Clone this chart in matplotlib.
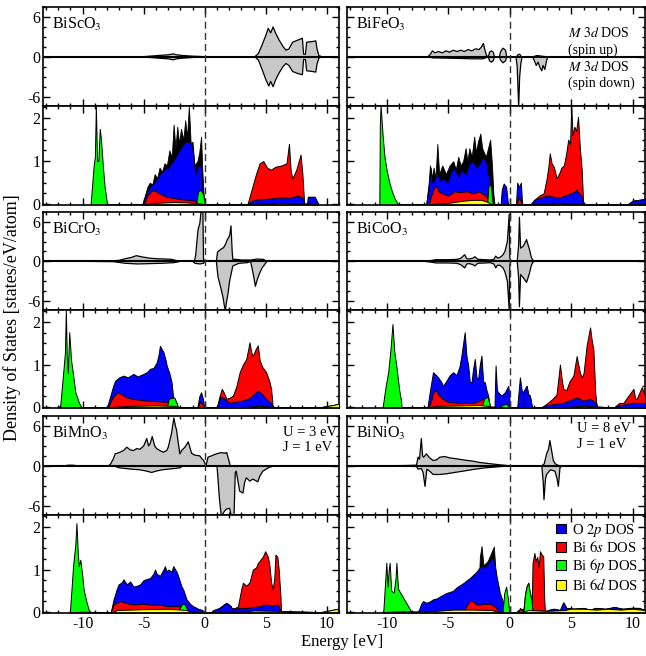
import matplotlib
matplotlib.use('Agg')
import matplotlib.pyplot as plt
from matplotlib.ticker import MultipleLocator
from matplotlib.patches import Patch
import numpy as np

plt.rcParams['font.family'] = 'Liberation Serif'
plt.rcParams['mathtext.fontset'] = 'stix'
plt.rcParams['axes.unicode_minus'] = False

# ---- BiScO3 ----
sc_up = [(-5.2, 0), (-4.5, 0.1), (-3.8, 0.2), (-3.0, 0.3), (-2.6, 0.45), (-2.3, 0.3), (-1.8, 0.2), (-1.0, 0.1),
         (-0.3, 0.05), (0, 0), (4.1, 0), (4.4, 0.5), (4.7, 1.8), (5.0, 3.2), (5.2, 4.3), (5.4, 3.6), (5.6, 4.5),
         (5.8, 3.6), (6.1, 2.5), (6.4, 1.6), (6.65, 1.0), (6.9, 1.2), (7.2, 2.2), (7.6, 2.5), (8.0, 2.8), (8.1, 0.4),
         (8.25, 0.4), (8.35, 2.2), (8.8, 2.3), (9.1, 2.4), (9.2, 1.2), (9.35, 0.2), (9.6, 0)]
sc_dn = [(-5.2, 0), (-4.5, -0.1), (-3.8, -0.2), (-3.0, -0.3), (-2.6, -0.45), (-2.3, -0.3), (-1.8, -0.2), (-1.0, -0.1),
         (0, 0), (4.1, 0), (4.4, -0.5), (4.7, -1.9), (5.0, -3.4), (5.25, -4.4), (5.4, -3.7), (5.6, -4.5), (5.8, -3.5),
         (6.1, -2.4), (6.4, -1.5), (6.65, -1.0), (6.9, -1.3), (7.2, -2.2), (7.6, -2.5), (8.0, -2.7), (8.1, -0.4),
         (8.25, -0.4), (8.35, -2.1), (8.8, -2.2), (9.1, -2.3), (9.2, -1.1), (9.35, -0.2), (9.6, 0)]
sc_o = [(-5.1, 0), (-4.8, 0.25), (-4.5, 0.4), (-4.0, 0.55), (-3.7, 0.7), (-3.3, 0.8), (-3.0, 0.85), (-2.6, 1.0),
        (-2.3, 1.15), (-2.0, 1.3), (-1.6, 1.45), (-1.3, 1.45), (-1.05, 1.4), (-0.85, 0.9), (-0.75, 0.7), (-0.6, 0.85),
        (-0.35, 0.95), (-0.2, 0.4), (-0.05, 0), (3.5, 0), (4.0, 0.1), (5.0, 0.12), (6.0, 0.15), (7.0, 0.15),
        (7.6, 0.2), (8.0, 0.15), (8.15, 0), (8.4, 0), (8.45, 0.17), (9.0, 0.17), (9.3, 0)]
sc_s = [(-5.0, 0), (-4.7, 0.2), (-4.4, 0.3), (-4.2, 0.33), (-3.9, 0.28), (-3.5, 0.22), (-3.1, 0.17), (-2.5, 0.14),
        (-1.5, 0.1), (-0.8, 0.08), (-0.5, 0), (3.5, 0), (3.8, 0.3), (4.2, 0.7), (4.5, 0.95), (4.8, 1.0), (5.1, 0.85),
        (5.4, 0.8), (5.8, 0.87), (6.3, 0.9), (6.7, 0.95), (6.9, 1.4), (7.05, 0.75), (7.2, 0.6), (7.5, 0.8),
        (7.85, 1.15), (8.0, 0.7), (8.15, 0)]
sc_p = [(-9.35, 0), (-9.1, 0.9), (-9.0, 1.1), (-8.92, 2.3), (-8.82, 1.0), (-8.72, 1.0), (-8.6, 1.75), (-8.5, 1.5),
        (-8.35, 0.9), (-8.2, 0.4), (-8.0, 0), (-0.7, 0), (-0.55, 0.3), (-0.3, 0.33), (-0.1, 0.2), (0, 0)]
sc_d = [(-5.0, 0), (-4.0, 0.03), (-2.5, 0.05), (-1.5, 0.04), (-0.5, 0.02), (0, 0), (4.0, 0), (6.0, 0.03),
        (8.0, 0.02), (9.0, 0)]
sc_t = [(-5.1, 0), (-4.7, 0.4), (-4.5, 0.5), (-4.3, 0.45), (-4.1, 0.7), (-3.9, 0.6), (-3.7, 0.85), (-3.5, 0.75),
        (-3.3, 0.95), (-3.1, 0.9), (-2.9, 1.25), (-2.7, 1.1), (-2.55, 1.85), (-2.4, 1.3), (-2.25, 1.8), (-2.1, 1.4),
        (-1.95, 1.75), (-1.75, 1.5), (-1.6, 1.95), (-1.45, 1.55), (-1.3, 2.28), (-1.15, 1.4), (-1.0, 1.45),
        (-0.85, 0.9), (-0.6, 1.0), (-0.45, 1.2), (-0.3, 1.57), (-0.2, 0.8), (-0.05, 0)]

# ---- BiFeO3 ----
fe_up = [(-6.7, 0), (-6.5, 0.3), (-6.3, 0.9), (-6.1, 0.6), (-5.8, 0.8), (-5.5, 0.6), (-5.2, 0.9), (-4.9, 0.7),
         (-4.6, 1.0), (-4.3, 0.8), (-4.0, 1.0), (-3.7, 0.8), (-3.4, 1.1), (-3.1, 0.9), (-2.8, 1.2), (-2.5, 1.1),
         (-2.3, 1.5), (-2.15, 2.0), (-2.05, 1.2), (-1.9, 0.2), (-1.75, 0), (-1.65, 0.7), (-1.5, 0.9), (-1.35, 0.7),
         (-1.25, 0), (-0.85, 0), (-0.75, 0.8), (-0.55, 1.3), (-0.35, 1.0), (-0.25, 0), (0.55, 0), (0.65, 0.3),
         (0.8, 0.4), (0.95, 0), (1.9, 0), (2.2, 0.2), (2.6, 0.1), (3.0, 0)]
fe_dn = [(-6.7, 0), (-6.3, -0.15), (-5.0, -0.2), (-4.0, -0.25), (-3.0, -0.3), (-2.2, -0.3), (-1.9, -0.1), (-1.75, 0),
         (-1.65, -0.6), (-1.5, -0.8), (-1.35, -0.6), (-1.25, 0), (-0.85, 0), (-0.75, -0.5), (-0.55, -0.9),
         (-0.35, -0.6), (-0.25, 0), (0.5, 0), (0.6, -1.5), (0.72, -7.6), (0.8, -3.0), (0.9, -1.0), (1.0, 0),
         (1.85, 0), (2.0, -0.6), (2.15, -1.3), (2.3, -0.8), (2.45, -1.6), (2.6, -2.1), (2.7, -1.3), (2.85, -1.9),
         (3.0, -0.5), (3.1, 0)]
fe_o = [(-6.8, 0), (-6.6, 0.4), (-6.45, 0.85), (-6.3, 0.5), (-6.1, 0.6), (-5.9, 0.75), (-5.7, 0.55), (-5.4, 0.6),
        (-5.1, 0.5), (-4.8, 0.75), (-4.5, 0.85), (-4.2, 0.65), (-3.9, 0.8), (-3.6, 0.7), (-3.3, 0.95), (-3.0, 1.0),
        (-2.7, 0.85), (-2.45, 0.95), (-2.2, 1.1), (-1.95, 1.0), (-1.75, 0.7), (-1.5, 0.45), (-1.35, 0.2),
        (-1.25, 0), (-0.75, 0), (-0.65, 0.35), (-0.5, 0.48), (-0.3, 0.4), (-0.15, 0), (0.5, 0), (0.6, 0.5),
        (0.75, 0.4), (0.9, 0.5), (1.0, 0), (1.7, 0), (2.0, 0.1), (2.5, 0.15), (3.0, 0.2), (4.0, 0.15), (5.0, 0.25),
        (5.4, 0.33), (5.8, 0.2), (6.0, 0), (9.6, 0), (10.0, 0.08), (10.5, 0.1), (11.0, 0.12)]
fe_s = [(-6.6, 0), (-6.4, 0.2), (-6.2, 0.35), (-6.0, 0.44), (-5.8, 0.3), (-5.5, 0.25), (-5.0, 0.2), (-4.5, 0.3),
        (-4.0, 0.28), (-3.5, 0.3), (-3.0, 0.25), (-2.5, 0.3), (-2.0, 0.2), (-1.7, 0.1), (-1.5, 0), (0.55, 0),
        (0.7, 0.15), (0.85, 0.1), (0.95, 0), (1.8, 0), (2.0, 0.1), (2.4, 0.2), (2.75, 0.25), (3.0, 0.6),
        (3.15, 0.9), (3.25, 1.18), (3.4, 0.95), (3.6, 0.85), (3.8, 0.6), (4.0, 0.7), (4.2, 0.85), (4.4, 0.9),
        (4.6, 1.2), (4.75, 1.5), (4.9, 1.4), (5.0, 2.3), (5.1, 1.6), (5.25, 1.8), (5.4, 1.7), (5.55, 2.03),
        (5.7, 1.3), (5.85, 0.8), (5.97, 0)]
fe_p = [(-10.62, 0), (-10.58, 1.8), (-10.52, 2.3), (-10.35, 1.6), (-10.2, 1.1), (-10.0, 0.75), (-9.8, 0.5),
        (-9.6, 0.3), (-9.35, 0.12), (-9.1, 0), (-1.85, 0), (-1.75, 0.4), (-1.6, 0.5), (-1.5, 0.3), (-1.4, 0)]
fe_d = [(-6.5, 0), (-5.0, 0.03), (-3.8, 0.08), (-3.0, 0.1), (-2.3, 0.1), (-1.8, 0.05), (-1.5, 0), (2.0, 0),
        (4.0, 0.03), (6.0, 0), (10.0, 0), (11.0, 0.03)]
fe_t = [(-6.8, 0), (-6.6, 0.5), (-6.5, 0.9), (-6.35, 0.6), (-6.2, 0.85), (-6.05, 0.6), (-5.9, 1.4), (-5.75, 0.7),
        (-5.5, 0.9), (-5.2, 0.7), (-4.9, 0.9), (-4.6, 1.0), (-4.4, 0.8), (-4.2, 1.1), (-4.0, 0.9), (-3.8, 1.0),
        (-3.6, 1.3), (-3.45, 1.0), (-3.3, 1.3), (-3.1, 1.1), (-2.9, 1.57), (-2.75, 1.2), (-2.6, 1.45),
        (-2.4, 1.64), (-2.25, 1.3), (-2.1, 1.2), (-1.95, 1.1), (-1.6, 1.5), (-1.45, 0.9), (-1.3, 0)]

# ---- BiCrO3 ----
cr_up = [(-10.0, 0), (-8.0, 0.03), (-7.0, 0.15), (-6.5, 0.4), (-6.0, 0.6), (-5.6, 0.86), (-5.2, 0.7), (-4.6, 0.5),
         (-4.0, 0.4), (-3.2, 0.35), (-2.7, 0.3), (-2.3, 0.1), (-2.0, 0), (-0.85, 0), (-0.75, 0.8), (-0.55, 4.8),
         (-0.4, 5.8), (-0.3, 7.6), (-0.15, 7.6), (-0.1, 0.3), (0, 0), (0.95, 0), (1.05, 1.4), (1.3, 1.8),
         (1.55, 2.1), (1.7, 2.6), (1.85, 3.3), (1.95, 3.6), (2.05, 4.0), (2.15, 5.4), (2.25, 1.5), (2.3, 0.3),
         (2.6, 0.3), (3.0, 0.2), (3.8, 0.2), (4.3, 0.35), (4.8, 0.3), (5.0, 0.1), (5.3, 0)]
cr_dn = [(-10.0, 0), (-7.5, -0.05), (-6.5, -0.3), (-5.5, -0.4), (-4.5, -0.35), (-3.5, -0.3), (-2.5, -0.2), (-2.0, 0),
         (-1.0, 0), (-0.8, -0.3), (-0.4, -0.4), (-0.1, -0.3), (0, 0), (0.95, 0), (1.09, -2.4), (1.3, -3.9),
         (1.5, -5.5), (1.68, -7.6), (1.8, -6.0), (1.9, -5.0), (2.04, -3.0), (2.3, -0.7), (2.8, -0.3), (3.5, -0.2),
         (3.75, 0), (3.85, -0.8), (4.0, -2.2), (4.15, -3.8), (4.3, -2.8), (4.5, -1.8), (4.7, -1.0), (4.9, -0.5),
         (5.1, 0)]
cr_o = [(-12.0, 0), (-11.6, 0.1), (-11.35, 0.18), (-11.1, 0.12), (-10.7, 0.05), (-10.3, 0), (-8.0, 0), (-7.8, 0.2),
        (-7.5, 0.5), (-7.34, 0.62), (-7.0, 0.7), (-6.66, 0.74), (-6.3, 0.7), (-5.84, 0.78), (-5.5, 0.72),
        (-5.02, 0.78), (-4.75, 0.82), (-4.48, 0.9), (-4.2, 0.92), (-3.94, 1.05), (-3.8, 1.2), (-3.67, 1.44),
        (-3.5, 1.35), (-3.39, 1.3), (-3.2, 1.1), (-3.12, 0.98), (-2.9, 0.8), (-2.72, 0.59), (-2.58, 0.2),
        (-2.31, 0), (-0.6, 0), (-0.45, 0.25), (-0.3, 0.35), (-0.15, 0.2), (-0.05, 0), (1.0, 0), (1.3, 0.25),
        (1.6, 0.2), (2.0, 0.1), (3.0, 0.15), (3.6, 0.2), (4.0, 0.3), (4.35, 0.39), (4.7, 0.3), (5.0, 0.2),
        (5.4, 0.1), (5.6, 0), (10.0, 0), (11.0, 0.03)]
cr_s = [(-7.9, 0), (-7.6, 0.2), (-7.34, 0.3), (-7.1, 0.35), (-6.8, 0.3), (-6.4, 0.23), (-6.0, 0.2), (-5.0, 0.16),
        (-4.0, 0.14), (-3.0, 0.12), (-2.6, 0.05), (-2.4, 0), (-0.55, 0), (-0.4, 0.12), (-0.2, 0.08), (-0.1, 0),
        (1.0, 0), (1.22, 0.27), (1.4, 0.43), (1.55, 0.35), (1.77, 0.2), (2.04, 0.22), (2.31, 0.27), (2.6, 0.5),
        (2.86, 0.82), (3.13, 1.0), (3.4, 1.13), (3.67, 1.52), (3.8, 1.3), (3.94, 1.2), (4.15, 1.35), (4.35, 1.45),
        (4.5, 1.1), (4.7, 0.95), (5.03, 0.82), (5.3, 0.6), (5.44, 0.43), (5.57, 0)]
cr_p = [(-11.85, 0), (-11.6, 0.8), (-11.45, 1.3), (-11.38, 2.3), (-11.3, 1.2), (-11.22, 0.8), (-11.1, 1.76),
        (-10.95, 1.1), (-10.85, 0.9), (-10.6, 0.35), (-10.3, 0.1), (-10.1, 0), (-3.1, 0), (-2.95, 0.2),
        (-2.5, 0.23), (-2.3, 0.1), (-2.2, 0)]
cr_d = [(-8.0, 0), (-6.0, 0.03), (-4.0, 0.04), (-2.5, 0.03), (-2.0, 0), (3.0, 0), (4.5, 0.03), (6.0, 0),
        (9.5, 0), (10.5, 0.05), (11.0, 0.08)]

# ---- BiCoO3 ----
co_up = [(-7.0, 0), (-6.5, 0.1), (-6.0, 0.25), (-5.0, 0.25), (-4.3, 0.3), (-4.0, 0.45), (-3.8, 0.8), (-3.67, 1.0),
         (-3.5, 0.4), (-3.3, 0.35), (-3.0, 0.5), (-2.85, 0.7), (-2.6, 0.3), (-2.0, 0.25), (-1.6, 0.2), (-1.3, 0.3),
         (-1.15, 0.8), (-1.0, 0.5), (-0.8, 0.6), (-0.55, 1.0), (-0.4, 1.5), (-0.2, 3.0), (-0.05, 7.2), (0.0, 0.5),
         (0.1, 0), (0.6, 0), (0.72, 2.5), (0.78, 6.7), (0.88, 2.0), (1.1, 2.3), (1.36, 3.3), (1.45, 2.7),
         (1.6, 1.8), (1.75, 0.6), (1.9, 0.1), (2.0, 0)]
co_dn = [(-7.0, 0), (-6.5, -0.1), (-6.0, -0.25), (-5.0, -0.25), (-4.3, -0.3), (-4.0, -0.5), (-3.8, -0.8),
         (-3.67, -1.0), (-3.5, -0.4), (-3.3, -0.35), (-3.0, -0.5), (-2.85, -0.7), (-2.6, -0.3), (-2.0, -0.25),
         (-1.6, -0.2), (-1.3, -0.4), (-1.15, -1.0), (-1.0, -0.6), (-0.8, -0.6), (-0.55, -1.0), (-0.4, -1.6),
         (-0.2, -3.0), (-0.05, -7.4), (0.0, -0.5), (0.1, 0), (0.6, 0), (0.72, -2.5), (0.78, -6.9), (0.88, -2.0),
         (1.1, -2.5), (1.36, -3.2), (1.45, -2.7), (1.6, -1.8), (1.75, -0.6), (1.9, -0.1), (2.0, 0)]
co_o = [(-10.2, 0), (-9.8, 0.08), (-9.4, 0.12), (-9.0, 0.05), (-8.8, 0), (-6.7, 0), (-6.52, 0.35), (-6.25, 0.82),
        (-6.0, 0.75), (-5.84, 0.7), (-5.6, 0.6), (-5.43, 0.5), (-5.16, 0.62), (-4.89, 0.75), (-4.62, 0.82),
        (-4.34, 0.75), (-4.1, 0.95), (-3.94, 1.21), (-3.8, 1.5), (-3.67, 1.76), (-3.53, 1.2), (-3.39, 0.98),
        (-3.26, 0.6), (-3.12, 0.58), (-2.99, 0.9), (-2.85, 1.13), (-2.71, 0.7), (-2.58, 0.66), (-2.44, 1.0),
        (-2.31, 1.21), (-2.17, 0.6), (-2.03, 0.58), (-1.9, 0.4), (-1.76, 0.27), (-1.63, 0), (-1.25, 0),
        (-1.16, 0.98), (-1.05, 0.4), (-0.95, 0.35), (-0.68, 0.27), (-0.4, 0.35), (-0.13, 0.5), (-0.05, 0.3),
        (0, 0), (0.6, 0), (0.82, 0.7), (0.96, 0.4), (1.09, 0.35), (1.36, 0.5), (1.5, 0.3), (1.63, 0.27), (1.8, 0),
        (2.6, 0), (3.0, 0.05), (4.35, 0.1), (5.44, 0.23), (6.0, 0.15), (6.53, 0.2), (7.0, 0.1), (7.1, 0),
        (8.5, 0), (9.0, 0.05), (10.0, 0.1), (11.0, 0.1)]
co_s = [(-6.6, 0), (-6.4, 0.15), (-6.25, 0.35), (-6.0, 0.4), (-5.84, 0.3), (-5.5, 0.2), (-5.0, 0.12), (-4.0, 0.1),
        (-3.0, 0.1), (-2.44, 0.15), (-2.2, 0.2), (-1.9, 0.1), (-1.7, 0), (2.6, 0), (2.99, 0.08), (3.5, 0.2),
        (3.8, 0.3), (4.08, 1.0), (4.2, 0.7), (4.35, 0.43), (4.6, 0.4), (4.85, 0.6), (5.17, 0.74), (5.44, 1.2),
        (5.57, 1.0), (5.71, 0.8), (5.85, 0.7), (6.0, 0.8), (6.25, 1.45), (6.53, 1.87), (6.65, 1.6), (6.8, 1.35),
        (6.95, 0.35), (7.07, 0), (8.5, 0), (8.9, 0.1), (9.24, 0.1), (9.6, 0.25), (10.06, 0.43), (10.2, 0.2),
        (10.33, 0.2), (10.74, 0.47), (11.0, 0.27)]
co_p = [(-10.35, 0), (-10.1, 0.5), (-9.9, 0.82), (-9.7, 1.4), (-9.55, 1.95), (-9.4, 1.3), (-9.24, 0.98),
        (-9.0, 0.4), (-8.85, 0.15), (-8.8, 0), (-2.3, 0), (-2.1, 0.2), (-1.8, 0.25), (-1.6, 0), (-0.9, 0),
        (-0.6, 0.05), (-0.3, 0.08), (0, 0)]
co_d = [(-6.6, 0), (-6.0, 0.03), (-4.0, 0.04), (-2.5, 0.05), (-1.8, 0.03), (-1.0, 0), (4.0, 0), (6.0, 0.03),
        (8.0, 0), (11.0, 0)]

# ---- BiMnO3 ----
mn_up = [(-11.5, 0), (-11.2, 0.1), (-10.8, 0.1), (-10.4, 0), (-7.9, 0), (-7.74, 0.2), (-7.5, 1.0), (-7.34, 1.8),
         (-7.0, 2.0), (-6.66, 2.3), (-6.38, 2.8), (-6.1, 2.4), (-5.84, 2.3), (-5.57, 2.6), (-5.3, 2.5), (-5.0, 3.0),
         (-4.75, 4.1), (-4.6, 3.0), (-4.48, 3.3), (-4.3, 4.4), (-4.1, 3.0), (-3.94, 2.6), (-3.67, 2.3),
         (-3.39, 2.05), (-3.12, 2.3), (-2.99, 2.8), (-2.72, 4.9), (-2.53, 7.2), (-2.4, 6.0), (-2.31, 5.4),
         (-2.17, 3.5), (-2.04, 1.8), (-1.9, 2.3), (-1.63, 2.8), (-1.35, 3.6), (-1.22, 2.8), (-1.08, 1.9),
         (-0.8, 1.6), (-0.41, 1.5), (-0.2, 1.0), (-0.08, 0.8), (0.1, 0), (0.27, 1.3), (0.68, 1.6), (0.95, 1.8),
         (1.36, 2.0), (1.63, 1.9), (1.8, 2.0), (1.95, 1.0), (2.09, 0), (11.0, 0)]
mn_dn = [(-11.5, 0), (-7.5, 0), (-7.0, -0.3), (-6.5, -0.4), (-6.0, -0.5), (-5.3, -0.6), (-4.75, -0.8),
         (-4.35, -1.0), (-4.0, -0.8), (-3.5, -0.6), (-3.0, -0.5), (-2.5, -0.4), (-2.04, -0.3), (-1.76, 0),
         (1.0, 0), (1.09, -2.0), (1.2, -4.9), (1.36, -7.6), (1.55, -7.0), (1.77, -6.5), (2.04, -6.4),
         (2.18, -7.6), (2.4, -7.6), (2.5, -1.0), (2.58, -0.8), (2.86, -3.8), (3.13, -4.1), (3.27, -2.5),
         (3.4, -1.8), (3.7, -2.3), (3.94, -2.0), (4.35, -2.4), (4.5, -1.6), (4.76, -0.8), (5.3, -0.2), (5.8, 0)]
mn_o = [(-11.0, 0), (-10.8, 0.08), (-10.5, 0.1), (-10.2, 0.06), (-9.8, 0), (-7.7, 0), (-7.47, 0.3), (-7.2, 0.55),
        (-7.06, 0.65), (-6.8, 0.7), (-6.66, 0.77), (-6.38, 0.65), (-6.11, 0.72), (-5.84, 0.6), (-5.57, 0.62),
        (-5.3, 0.65), (-5.02, 0.75), (-4.75, 0.78), (-4.48, 0.8), (-4.21, 0.9), (-4.07, 1.0), (-3.94, 0.9),
        (-3.67, 0.85), (-3.39, 1.0), (-3.26, 1.08), (-3.12, 0.95), (-2.99, 1.0), (-2.72, 0.95), (-2.58, 1.08),
        (-2.31, 0.95), (-2.17, 0.84), (-1.9, 0.6), (-1.76, 0.53), (-1.49, 0.3), (-1.22, 0.2), (-0.95, 0.14),
        (-0.54, 0.08), (-0.2, 0.05), (0, 0), (0.5, 0), (0.7, 0.05), (1.2, 0.1), (1.77, 0.22), (2.1, 0.15),
        (2.3, 0.05), (2.72, 0.1), (3.5, 0.1), (4.49, 0.14), (5.03, 0.18), (5.5, 0.15), (5.98, 0.18), (6.25, 0),
        (11.0, 0)]
mn_s = [(-7.7, 0), (-7.47, 0.18), (-7.2, 0.22), (-6.93, 0.26), (-6.5, 0.22), (-5.84, 0.18), (-5.0, 0.2),
        (-4.48, 0.18), (-3.5, 0.17), (-3.12, 0.14), (-2.5, 0.14), (-2.04, 0.14), (-1.6, 0.08), (-1.3, 0), (1.0, 0),
        (1.5, 0.05), (2.0, 0.08), (2.5, 0.1), (2.72, 0.14), (3.0, 0.55), (3.13, 0.69), (3.4, 0.62), (3.67, 0.7),
        (3.94, 1.0), (4.21, 1.05), (4.35, 1.15), (4.62, 1.25), (4.76, 1.3), (4.95, 1.43), (5.17, 1.3), (5.3, 1.1),
        (5.44, 0.7), (5.57, 0.53), (5.7, 0.8), (5.79, 1.35), (5.95, 1.3), (6.06, 1.0), (6.2, 0.4), (6.25, 0)]
mn_p = [(-11.05, 0), (-10.9, 0.6), (-10.79, 1.08), (-10.6, 1.6), (-10.51, 2.09), (-10.4, 1.4), (-10.32, 1.08),
        (-10.19, 1.23), (-10.05, 0.9), (-9.92, 0.53), (-9.7, 0.25), (-9.51, 0.06), (-9.37, 0), (-2.2, 0),
        (-2.04, 0.1), (-1.9, 0.18), (-1.7, 0.2), (-1.5, 0.1), (-1.3, 0)]
mn_d = [(-11.0, 0), (-10.0, 0.01), (-7.5, 0), (-7.2, 0.05), (-5.0, 0.07), (-3.0, 0.08), (-1.5, 0.05), (-1.0, 0),
        (3.0, 0), (4.0, 0.04), (6.0, 0.03), (9.5, 0), (10.2, 0.04), (10.9, 0.08)]

# ---- BiNiO3 ----
ni_up = [(-10.3, 0), (-8.5, 0.05), (-7.6, 0.1), (-7.47, 1.3), (-7.35, 1.0), (-7.2, 4.1), (-7.1, 1.5), (-7.01, 1.3),
         (-6.79, 1.8), (-6.52, 1.2), (-6.25, 0.8), (-5.97, 0.9), (-5.7, 1.3), (-5.3, 1.4), (-4.89, 1.2),
         (-4.5, 1.1), (-3.8, 0.9), (-3.0, 0.7), (-2.44, 0.5), (-1.5, 0.3), (-0.8, 0.15), (-0.2, 0.05), (0, 0),
         (2.6, 0), (2.8, 0.3), (2.99, 1.8), (3.15, 2.5), (3.26, 3.8), (3.4, 2.3), (3.54, 0.8), (3.7, 0.3),
         (3.9, 0.1), (4.1, 0)]
ni_dn = [(-10.3, 0), (-7.6, -0.1), (-7.47, -0.5), (-7.2, -0.4), (-7.06, -1.0), (-6.9, -3.1), (-6.75, -0.5),
         (-6.52, -0.8), (-6.25, -1.3), (-5.7, -1.3), (-5.16, -1.2), (-4.5, -1.0), (-3.8, -0.8), (-3.0, -0.55),
         (-2.0, -0.3), (-1.0, -0.15), (0, 0), (2.6, 0), (2.72, -2.5), (2.78, -5.1), (2.9, -2.0), (2.99, -1.3),
         (3.3, -0.6), (3.67, -0.8), (3.85, -2.0), (3.95, -3.1), (4.08, -0.3), (4.2, 0)]
ni_o = [(-10.4, 0), (-10.2, 0.05), (-9.5, 0.05), (-9.0, 0.08), (-8.5, 0.05), (-8.0, 0), (-7.55, 0), (-7.39, 0.06),
        (-7.2, 0.2), (-7.06, 0.26), (-6.79, 0.22), (-6.52, 0.25), (-6.25, 0.3), (-5.97, 0.32), (-5.43, 0.41),
        (-5.16, 0.45), (-4.62, 0.5), (-4.34, 0.58), (-3.8, 0.68), (-3.26, 0.8), (-2.71, 0.95), (-2.31, 1.1),
        (-2.03, 1.05), (-1.63, 1.2), (-1.35, 1.3), (-1.08, 0.84), (-0.81, 0.45), (-0.54, 0.22), (-0.27, 0),
        (0.5, 0), (0.7, 0.05), (1.1, 0.08), (1.9, 0.05), (2.9, 0), (3.1, 0.05), (3.6, 0.08), (4.08, 0.05),
        (4.35, 0.23), (4.6, 0.1), (5.2, 0.08), (6.0, 0.1), (6.5, 0.06), (7.0, 0.1), (7.8, 0.08), (8.5, 0.12),
        (9.2, 0.08), (9.8, 0.1), (10.5, 0.1), (11.0, 0.05)]
ni_s = [(-3.8, 0), (-3.53, 0.15), (-3.26, 0.26), (-2.99, 0.26), (-2.71, 0.18), (-2.44, 0.18), (-2.03, 0.2),
        (-1.63, 0.2), (-1.35, 0.16), (-1.1, 0.1), (-0.95, 0), (0.7, 0), (0.82, 0.1), (1.0, 0.05), (1.1, 0),
        (1.77, 0), (1.85, 1.16), (2.0, 1.39), (2.1, 1.2), (2.23, 1.3), (2.35, 1.05), (2.45, 1.43), (2.6, 1.35),
        (2.72, 1.31), (2.8, 0.3), (2.86, 0)]
ni_p = [(-10.3, 0), (-10.15, 0.7), (-10.05, 1.16), (-9.95, 0.6), (-9.85, 1.0), (-9.78, 1.16), (-9.65, 0.5),
        (-9.45, 0.46), (-9.3, 0.8), (-9.23, 1.16), (-9.1, 0.55), (-8.9, 0.45), (-8.6, 0.3), (-8.3, 0.15),
        (-8.0, 0), (-0.6, 0), (-0.45, 0.45), (-0.3, 0.6), (-0.15, 0.3), (-0.05, 0), (1.1, 0), (1.23, 0.4),
        (1.36, 0.6), (1.5, 0.69), (1.6, 0.5), (1.75, 0.3), (1.85, 0)]
ni_d = [(-10.3, 0), (-9.0, 0.02), (-7.5, 0.02), (-6.0, 0.03), (-4.6, 0.06), (-3.0, 0.06), (-1.5, 0.05), (-0.8, 0),
        (1.0, 0), (1.5, 0.05), (3.0, 0.03), (4.5, 0.05), (4.9, 0.08), (6.0, 0.08), (7.0, 0.06), (8.0, 0.08),
        (9.0, 0.06), (10.0, 0.08), (11.0, 0.05)]
ni_t = [(-2.6, 0), (-2.44, 1.3), (-2.3, 1.55), (-2.15, 1.1), (-1.8, 1.2), (-1.5, 1.4), (-1.3, 1.54), (-1.15, 0.9),
        (-1.0, 0)]

names = ['BiScO$_3$', 'BiFeO$_3$', 'BiCrO$_3$', 'BiCoO$_3$', 'BiMnO$_3$', 'BiNiO$_3$']
spins = [(sc_up, sc_dn), (fe_up, fe_dn), (cr_up, cr_dn), (co_up, co_dn), (mn_up, mn_dn), (ni_up, ni_dn)]
pdos = [(sc_o, sc_s, sc_p, sc_d, sc_t), (fe_o, fe_s, fe_p, fe_d, fe_t), (cr_o, cr_s, cr_p, cr_d, None),
        (co_o, co_s, co_p, co_d, None), (mn_o, mn_s, mn_p, mn_d, None), (ni_o, ni_s, ni_p, ni_d, ni_t)]
labels = ['O $\\mathit{2p}$ DOS', 'Bi $\\mathit{6s}$ DOS', 'Bi $\\mathit{6p}$ DOS', 'Bi $\\mathit{6d}$ DOS']
colors = ['#0000ff', '#ff0000', '#00ff00', '#ffff00']

W, H = 646, 656
fig = plt.figure(figsize=(W / 100, H / 100), dpi=100)


def box(l, t, r, b):
    return [l / W, 1 - b / H, (r - l) / W, (b - t) / H]


def xy(pts):
    a = np.array(pts, dtype=float)
    return a[:, 0], a[:, 1]


def style(ax, bottom_labels, left_labels, spin):
    ax.set_xlim(-13.25, 11.0)
    ax.xaxis.set_major_locator(MultipleLocator(5))
    ax.xaxis.set_minor_locator(MultipleLocator(1))
    if spin:
        ax.set_ylim(-7.4, 7.5)
        ax.yaxis.set_major_locator(MultipleLocator(6))
        ax.yaxis.set_minor_locator(MultipleLocator(1.5))
    else:
        ax.set_ylim(-0.02, 2.28)
        ax.yaxis.set_major_locator(MultipleLocator(1))
        ax.yaxis.set_minor_locator(MultipleLocator(0.25))
    ax.tick_params(which='both', direction='in', top=True, right=True, width=1,
                   labelbottom=bottom_labels, labelleft=left_labels, labelsize=11.5, pad=2)
    ax.tick_params(which='major', length=5)
    ax.tick_params(which='minor', length=2.5)
    for s in ax.spines.values():
        s.set_linewidth(1.2)
    ax.axvline(0, color='#333333', lw=1, ls=(0, (5, 3)), zorder=6)


cols = [(43, 339), (347, 645)]
rows = [(7, 106, 205), (212, 310, 408), (416, 515, 613)]

for i in range(6):
    r, c = divmod(i, 2)
    l, rt = cols[c]
    t, m, b = rows[r]

    # spin-resolved M 3d panel
    ax = fig.add_axes(box(l, t, rt, m))
    style(ax, False, c == 0, True)
    for pts in spins[i]:
        e, v = xy(pts)
        ax.fill_between(e, v, 0, facecolor='#c8c8c8', edgecolor='none', zorder=2)
        ax.plot(e, v, color='k', lw=0.9, zorder=3)
    ax.axhline(0, color='k', lw=1.5, zorder=4)
    ax.text(0.03, 0.91, names[i], transform=ax.transAxes, fontsize=11.5, va='top', ha='left')
    if i == 1:
        ax.text(0.742, 0.74, '$\\mathit{M\\ 3d}$ DOS', transform=ax.transAxes, fontsize=10, va='center')
        ax.text(0.742, 0.565, '(spin up)', transform=ax.transAxes, fontsize=10, va='center')
        ax.text(0.742, 0.395, '$\\mathit{M\\ 3d}$ DOS', transform=ax.transAxes, fontsize=10, va='center')
        ax.text(0.742, 0.23, '(spin down)', transform=ax.transAxes, fontsize=10, va='center')
    if i == 4:
        ax.text(0.81, 0.83, 'U = 3 eV', transform=ax.transAxes, fontsize=10.5, va='center')
        ax.text(0.81, 0.68, 'J = 1 eV', transform=ax.transAxes, fontsize=10.5, va='center')
    if i == 5:
        ax.text(0.772, 0.87, 'U = 8 eV', transform=ax.transAxes, fontsize=10.5, va='center')
        ax.text(0.772, 0.71, 'J = 1 eV', transform=ax.transAxes, fontsize=10.5, va='center')

    # projected DOS panel
    ax = fig.add_axes(box(l, m, rt, b))
    style(ax, r == 2, c == 0, False)
    o, s, p, d, tot = pdos[i]
    if tot is not None:
        e, v = xy(tot)
        ax.fill_between(e, v, 0, facecolor='k', edgecolor='k', lw=0.6, zorder=2)
    for pts, col in zip((o, s, p, d), colors):
        e, v = xy(pts)
        ax.fill_between(e, v, 0, facecolor=col, edgecolor='k', lw=0.7, zorder=3)
    # in the conduction band the smaller O/Bi-p/Bi-d parts lie in front of Bi-s
    for pts, col in zip((o, p, d), (colors[0], colors[2], colors[3])):
        e, v = xy(pts)
        ax.fill_between(e, v, 0, where=e >= 1.0, facecolor=col, edgecolor='k', lw=0.7, zorder=4)
    if i == 5:
        handles = [Patch(facecolor=cc, edgecolor='k', lw=0.8) for cc in colors]
        ax.legend(handles, labels, loc='upper right', frameon=False, fontsize=10.5,
                  handlelength=0.65, handleheight=0.65, handletextpad=0.45, labelspacing=0.12,
                  borderaxespad=0.25, borderpad=0.2)

fig.text(0.019, 1 - 318 / H, 'Density of States [states/eV/atom]', rotation=90, fontsize=13,
         ha='center', va='center')
fig.text(0.53, 1 - 642 / H, 'Energy [eV]', fontsize=12, ha='center', va='center')

fig.savefig('out.png', dpi=100)
